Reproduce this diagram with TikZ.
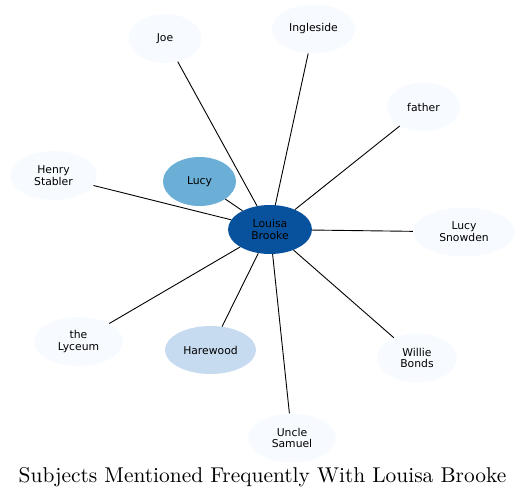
\documentclass[tikz,border=0pt]{standalone}
\usepackage{fontspec}
\newfontfamily\labelfont{DejaVu Sans}
\usepackage{graphicx}
\usepackage{tikz}
\usetikzlibrary{shapes.geometric}

\definecolor{hubblue}{HTML}{08519C}
\definecolor{midblue}{HTML}{6BAED6}
\definecolor{lightblue}{HTML}{C6DBEF}
\definecolor{paleblue}{HTML}{F7FBFF}

\begin{document}
\begin{tikzpicture}[
    x=1pt, y=-1pt,
    subject/.style={ellipse, fill=paleblue, inner sep=0pt, minimum width=84pt, minimum height=49pt, align=center, font=\labelfont\fontsize{10.8}{11.8}\selectfont},
    link/.style={draw=black, line width=0.9pt}
]
\useasboundingbox (0,0) rectangle (525,500);

% Hub
\node[subject, fill=hubblue] (louisa) at (270,229.5) {Louisa\\Brooke};

% Subjects around the hub
\node[subject, fill=midblue, minimum width=73pt] (lucy) at (199.5,181.5) {Lucy};
\node[subject, fill=lightblue, minimum width=91pt, minimum height=48pt] (harewood) at (210.5,350) {Harewood};
\node[subject, minimum width=73pt] (joe) at (165,38.5) {Joe};
\node[subject, minimum width=83pt] (ingleside) at (313.5,29) {Ingleside};
\node[subject, minimum width=73pt] (father) at (423.5,107) {father};
\node[subject, minimum width=87pt] (henry) at (53.5,175.5) {Henry\\Stabler};
\node[subject, minimum width=102pt] (snowden) at (464,232) {Lucy\\Snowden};
\node[subject, minimum width=89pt] (lyceum) at (78.5,341.5) {the\\Lyceum};
\node[subject, minimum width=80pt] (willie) at (417,358) {Willie\\Bonds};
\node[subject, minimum width=88pt] (samuel) at (292,438) {Uncle\\Samuel};

% Links
\foreach \other in {lucy, harewood, joe, ingleside, father, henry, snowden, lyceum, willie, samuel}
    \draw[link] (louisa) -- (\other);

% Title
\node[inner sep=0pt] (title) at (262.5,477) {\scalebox{2.14}{Subjects Mentioned Frequently With Louisa Brooke}};

\end{tikzpicture}
\end{document}
